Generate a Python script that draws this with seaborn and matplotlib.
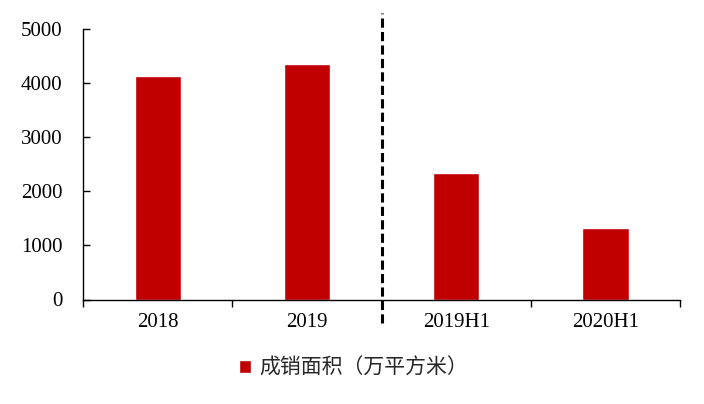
import matplotlib
matplotlib.use("Agg")
import matplotlib.pyplot as plt
import seaborn as sns
import pandas as pd

categories = ["2018", "2019", "2019H1", "2020H1"]
values = [4130, 4340, 2340, 1320]
series_name = "成销面积（万平方米）"
yticks = [0, 1000, 2000, 3000, 4000, 5000]

sns.set_style("ticks")
plt.rcParams['font.family'] = ['Liberation Serif', 'Noto Sans CJK SC', 'DejaVu Sans']

df = pd.DataFrame({"cat": categories, "val": values})

fig = plt.figure(figsize=(7.04, 4.04), dpi=100)
ax = fig.add_axes([83.3/704, 1-299.5/404, (680-83.3)/704, (299.5-28.5)/404])

sns.barplot(data=df, x="cat", y="val", color="#C00000", width=0.31,
            saturation=1, ax=ax, label=series_name)
if ax.get_legend() is not None:
    ax.get_legend().remove()

ax.set_xlim(-0.5, 3.5)
ax.set_ylim(0, 5000)
ax.set_yticks(yticks)
ax.set_yticklabels([str(t) for t in yticks])
ax.set_xlabel("")
ax.set_ylabel("")

for s in ["top", "right"]:
    ax.spines[s].set_visible(False)
for s in ["left", "bottom"]:
    ax.spines[s].set_linewidth(1.0)
    ax.spines[s].set_color("black")

ax.tick_params(axis="y", direction="in", length=5, width=1, pad=15,
               labelsize=15, colors="black")
ax.tick_params(axis="x", which="major", length=0, pad=10, labelsize=15,
               colors="black")
ax.set_xticks([-0.5, 0.5, 1.5, 2.5, 3.5], minor=True)
ax.tick_params(axis="x", which="minor", direction="out", length=5, width=1,
               colors="black")

ax.axvline(1.5, ymin=-0.087, ymax=1.057, color="black", lw=2.2,
           linestyle=(0, (3, 1.4)), clip_on=False)

handles, labels = ax.get_legend_handles_labels()
leg = fig.legend(handles, labels, loc="center", bbox_to_anchor=(0.502, 0.089),
                 frameon=False, handlelength=0.55, handleheight=0.55,
                 handletextpad=0.4,
                 prop={"family": ["Noto Sans CJK SC"], "size": 15})

fig.savefig("out.png", dpi=100)
